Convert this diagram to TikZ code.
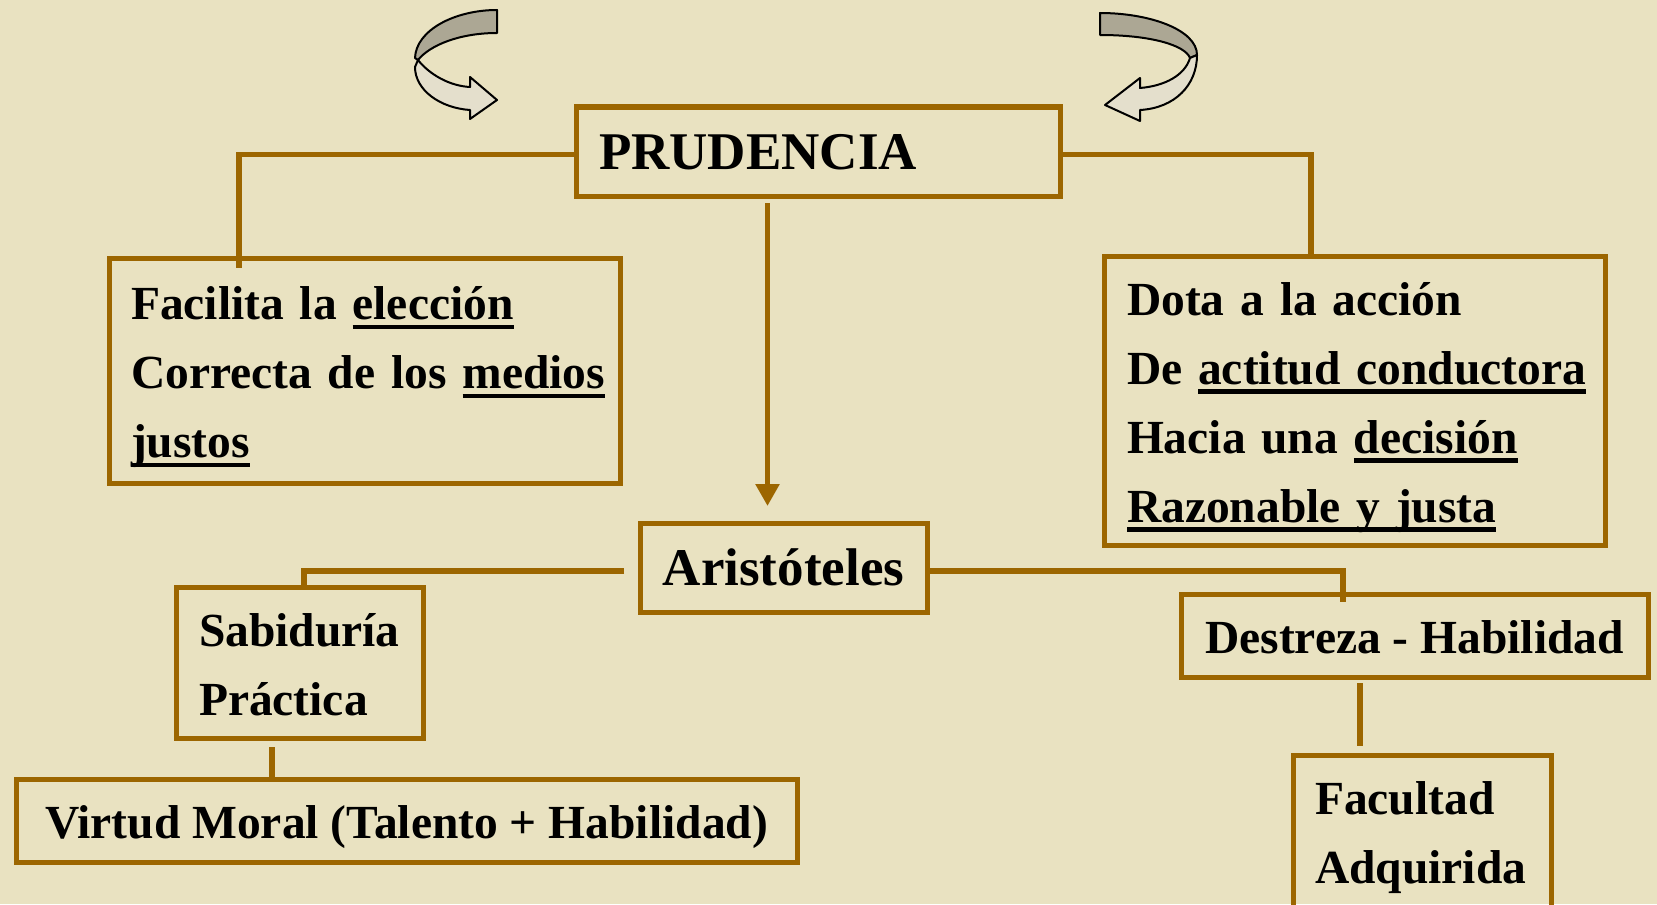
\documentclass[tikz,border=0pt]{standalone}
\usepackage{fontspec}
\setmainfont{Liberation Serif}
\usetikzlibrary{positioning, arrows.meta, calc}

\definecolor{parchment}{RGB}{233,226,193}
\definecolor{boxbrown}{RGB}{156,102,0}
\definecolor{ribbondark}{RGB}{172,167,148}
\definecolor{ribbonlight}{RGB}{228,223,204}

\newsavebox{\undlbox}
\newcommand{\undl}[1]{\sbox{\undlbox}{#1}\rlap{\rule[-4.8pt]{\wd\undlbox}{2.2pt}}\usebox{\undlbox}}
\newcommand{\sstrut}{\rule[-8.25pt]{0pt}{34.5pt}}
\newcommand{\bodyfont}{\fontsize{23.75}{34.5}\selectfont\bfseries}
\newcommand{\titlefont}{\fontsize{26.5}{34.5}\selectfont\bfseries}

\begin{document}
\begin{tikzpicture}[
    x=0.5pt, y=-0.5pt,
    % Styles
    box/.style={draw=boxbrown, line width=2.5pt, anchor=north west, outer sep=0pt, font=\bodyfont},
    leftbox/.style={box, align=left, inner ysep=0pt},
    centerbox/.style={box, inner ysep=0pt},
    link/.style={draw=boxbrown, line width=2.8pt},
    arrowlink/.style={link, -{Triangle[width=11.5pt, length=11pt]}},
    ribbonback/.style={fill=ribbondark, draw=black, line width=1pt, line join=round},
    ribbonfront/.style={fill=ribbonlight, draw=black, line width=1pt, line join=round},
]

% Background
\useasboundingbox (0, 0) rectangle (1657, 904);
\clip (0, 0) rectangle (1657, 904);
\fill[parchment] (0, 0) rectangle (1657, 904);

% Curved arrows
\draw[ribbonback] (497, 10) .. controls (455, 10) and (416, 30) .. (415, 58)
    -- (418, 60) .. controls (430, 45) and (460, 33) .. (497, 33) -- cycle;
\draw[ribbonfront] (418, 60) .. controls (430, 75) and (450, 86) .. (470, 87)
    -- (470, 77) -- (497, 100) -- (470, 119) -- (470, 110)
    .. controls (440, 108) and (415, 90) .. (415, 67) -- cycle;

\draw[ribbonback] (1100, 13) .. controls (1150, 13) and (1197, 30) .. (1197, 55)
    -- (1190, 58) .. controls (1185, 45) and (1150, 35) .. (1100, 35) -- cycle;
\draw[ribbonfront] (1190, 58) .. controls (1185, 75) and (1165, 86) .. (1140, 88)
    -- (1140, 78) -- (1105, 105) -- (1140, 121) -- (1140, 110)
    .. controls (1175, 108) and (1197, 85) .. (1197, 55) -- cycle;

% Top
\node[leftbox, font=\titlefont, minimum width=242pt, minimum height=44.5pt, inner xsep=11.5pt, text width=219pt] (prud) at (576, 107) {\sstrut PRUDENCIA};

\node[leftbox, minimum width=255.5pt, minimum height=112.25pt, inner xsep=11pt, text width=233.5pt] (lbox) at (109, 258.5)
    {\mbox{\sstrut Facilita la \undl{elección}}\\
     \mbox{\sstrut Correcta de los \undl{medios}}\\
     \mbox{\sstrut\undl{justos}}};

\node[leftbox, minimum width=250.5pt, minimum height=144.5pt, inner xsep=11.5pt, text width=227.5pt] (rbox) at (1104, 256)
    {\mbox{\sstrut Dota a la acción}\\
     \mbox{\sstrut De \undl{actitud conductora}}\\
     \mbox{\sstrut Hacia una \undl{decisión}}\\
     \mbox{\sstrut\undl{Razonable y justa}}};

\draw[link] ($(prud.west)+(0, 3)$) -| ($(lbox.north west)+(130, 9)$);
\draw[link] ($(prud.east)+(0, 3)$) -| ($(rbox.north west)+(207, 0)$);

% Middle
\node[centerbox, font=\titlefont, minimum width=143.5pt, minimum height=44.5pt] (aris) at (640, 523) {\sstrut Aristóteles};
\draw[arrowlink] ($(prud.south west)+(191.5, 7)$) -- ($(aris.north west)+(127.5, -17)$);

% Left branch
\node[leftbox, minimum width=123.5pt, minimum height=75.5pt, inner xsep=11.5pt, text width=100.5pt] (sab) at (176, 587)
    {\sstrut Sabiduría\\ \sstrut Práctica};
\node[centerbox, minimum width=390.5pt, minimum height=41.5pt] (virt) at (16, 779)
    {\sstrut Virtud Moral (Talento + Habilidad)};

\draw[link] ($(aris.west)+(-16, 3.5)$) -| ($(sab.north west)+(128, 0)$);
\draw[link] ($(sab.south west)+(96, 9)$) -- ($(virt.north west)+(256, 0)$);

% Right branch
\node[centerbox, minimum width=233.5pt, minimum height=41.5pt] (dest) at (1181, 594)
    {\sstrut Destreza - Habilidad};
\node[leftbox, minimum width=129pt, minimum height=76pt, inner xsep=11pt, text width=107pt] (fac) at (1293, 755)
    {\sstrut Facultad\\ \sstrut Adquirida};

\draw[link] ($(aris.east)+(0, 3.5)$) -| ($(dest.north west)+(162, 8)$);
\draw[link] ($(dest.south west)+(179, 6)$) -- ($(fac.north west)+(67, -9)$);

\end{tikzpicture}
\end{document}
